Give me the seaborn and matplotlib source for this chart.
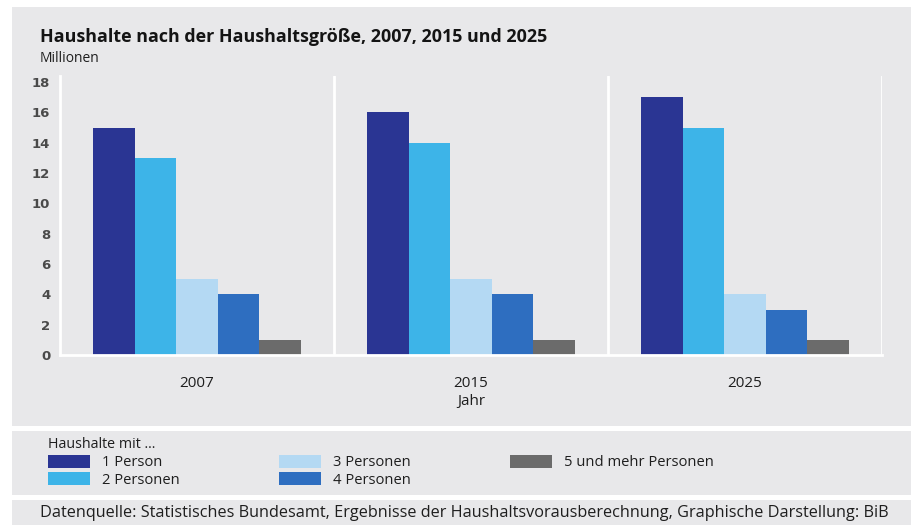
import matplotlib
matplotlib.use("Agg")
import matplotlib.pyplot as plt
from matplotlib.patches import Rectangle
import pandas as pd
import seaborn as sns

# Haushalte in Millionen nach Haushaltsgröße
jahre = ["2007", "2015", "2025"]
groessen = ["1 Person", "2 Personen", "3 Personen", "4 Personen", "5 und mehr Personen"]
werte_1 = [15, 16, 17]
werte_2 = [13, 14, 15]
werte_3 = [5, 5, 4]
werte_4 = [4, 4, 3]
werte_5 = [1, 1, 1]
y_ticks = [0, 2, 4, 6, 8, 10, 12, 14, 16, 18]

farben = ["#2a3593", "#3db4e8", "#b4d9f3", "#2e6ec0", "#6b6b6b"]

rows = []
for g, werte in zip(groessen, [werte_1, werte_2, werte_3, werte_4, werte_5]):
    for j, w in zip(jahre, werte):
        rows.append({"Jahr": j, "Haushalt": g, "Millionen": w})
df = pd.DataFrame(rows)

sns.set_theme(style="white")
plt.rcParams["font.family"] = ["Open Sans", "DejaVu Sans"]

BG = "#e8e8ea"
TXT = "#1e1e1e"
W, H = 912, 525
fig = plt.figure(figsize=(W / 100, H / 100), dpi=100, facecolor="white")

def fy(py):
    return (H - py) / H

# Hintergrundflächen: Diagramm, Legende, Quellenzeile
for top, bottom in [(7, 426), (431, 495), (500, 526)]:
    fig.patches.append(Rectangle((12 / W, fy(bottom)), 1.01 - 12 / W, fy(top) - fy(bottom),
                                 transform=fig.transFigure, facecolor=BG, edgecolor="none",
                                 zorder=-10))

ax = fig.add_axes([60 / W, fy(355), (882 - 60) / W, (355 - 76) / H])
ax.set_facecolor(BG)
ax.set_zorder(1)

sns.barplot(data=df, x="Jahr", y="Millionen", hue="Haushalt", order=jahre, hue_order=groessen,
            palette=farben, width=0.76, saturation=1, ax=ax, edgecolor="none", linewidth=0)

ax.set_xlim(-0.5, 2.5)
ax.set_ylim(0, 18.4)
ax.set_yticks(y_ticks)
ax.set_yticklabels([str(t) for t in y_ticks], family="DejaVu Sans", fontsize=9.5,
                   fontweight="semibold", color="#4a4a4a")
ax.tick_params(axis="y", length=0, pad=7)
ax.tick_params(axis="x", length=0, pad=15, labelsize=11, labelcolor=TXT)
ax.set_ylabel("")
ax.set_xlabel("Jahr", fontsize=11, color=TXT, labelpad=2.5)

for s in ["top", "right"]:
    ax.spines[s].set_visible(False)
for s in ["left", "bottom"]:
    ax.spines[s].set_color("white")
    ax.spines[s].set_linewidth(2)
for xv in [0.5, 1.5, 2.5]:
    ax.axvline(xv, color="white", lw=2, zorder=0.5)

handles, labels = ax.get_legend_handles_labels()
leg = ax.legend(handles, labels, ncol=3, loc="upper left",
                bbox_to_anchor=(48 / W, fy(437)), bbox_transform=fig.transFigure,
                frameon=False, title="Haushalte mit ...", alignment="left",
                fontsize=10.6, title_fontsize=10.3, borderpad=0, borderaxespad=0,
                handlelength=2.85, handleheight=1.0, handletextpad=0.8,
                labelspacing=0.12, columnspacing=6.75)
leg._legend_box.sep = 2
for t in leg.get_texts():
    t.set_color(TXT)
leg.get_title().set_color(TXT)

fig.text(40 / W, fy(37), "Haushalte nach der Haushaltsgröße, 2007, 2015 und 2025",
         fontsize=12.9, fontweight="bold", color="#141414", va="center", ha="left")
fig.text(40 / W, fy(58), "Millionen", fontsize=10, color=TXT, va="center", ha="left")
fig.text(40 / W, fy(513),
         "Datenquelle: Statistisches Bundesamt, Ergebnisse der Haushaltsvorausberechnung, Graphische Darstellung: BiB",
         fontsize=11.7, color=TXT, va="center", ha="left")

fig.savefig("out.png", dpi=100, facecolor="white")
